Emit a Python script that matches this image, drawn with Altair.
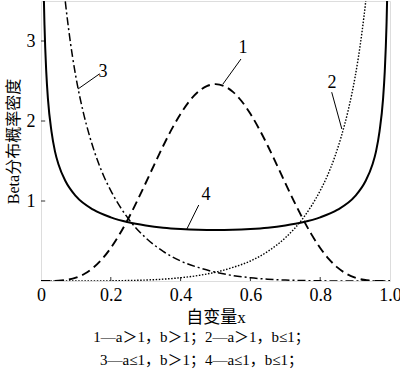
import altair as alt
import pandas as pd

# Curve 1 (a>1, b>1) - dashed
x1 = [0, 0.025, 0.05, 0.075, 0.1, 0.125, 0.15, 0.175, 0.2, 0.225, 0.25, 0.275, 0.3, 0.325,
      0.35, 0.375, 0.4, 0.425, 0.45, 0.475, 0.5, 0.525, 0.55, 0.575, 0.6, 0.625, 0.65, 0.675,
      0.7, 0.725, 0.75, 0.775, 0.8, 0.825, 0.85, 0.875, 0.9, 0.925, 0.95, 0.975, 1.0]
y1 = [0, 0.0002, 0.003, 0.015, 0.041, 0.090, 0.167, 0.274, 0.413, 0.583, 0.779, 0.996, 1.225, 1.459,
      1.688, 1.901, 2.090, 2.247, 2.364, 2.436, 2.461, 2.436, 2.364, 2.247, 2.090, 1.901, 1.688, 1.459,
      1.225, 0.996, 0.779, 0.583, 0.413, 0.274, 0.167, 0.090, 0.041, 0.015, 0.003, 0.0002, 0]

# Curve 3 (a<=1, b>1) - dash-dot
x3 = [0.03, 0.04, 0.05, 0.06, 0.07, 0.08, 0.1, 0.12, 0.14, 0.16, 0.18, 0.2, 0.25, 0.3, 0.35,
      0.4, 0.45, 0.5, 0.55, 0.6, 0.65, 0.7, 0.75, 0.8, 0.85, 0.9, 1.0]
y3 = [6.29, 5.23, 4.48, 3.92, 3.48, 3.12, 2.55, 2.13, 1.80, 1.53, 1.31, 1.13, 0.78, 0.54, 0.37,
      0.25, 0.17, 0.11, 0.068, 0.041, 0.023, 0.012, 0.006, 0.002, 0.001, 0.0001, 0]

# Curve 2 (a>1, b<=1) - dotted
x2 = [0.0, 0.1, 0.15, 0.2, 0.25, 0.3, 0.35, 0.4, 0.45, 0.5, 0.55, 0.6, 0.65, 0.7, 0.75,
      0.8, 0.82, 0.84, 0.86, 0.88, 0.9, 0.92, 0.93, 0.94, 0.95, 0.96, 0.97]
y2 = [0, 0.0001, 0.001, 0.002, 0.006, 0.012, 0.023, 0.041, 0.068, 0.11, 0.17, 0.25, 0.37, 0.54, 0.78,
      1.13, 1.31, 1.53, 1.80, 2.13, 2.55, 3.12, 3.48, 3.92, 4.48, 5.23, 6.29]

# Curve 4 (a<=1, b<=1) - solid
x4 = [0.005, 0.008, 0.01, 0.015, 0.02, 0.03, 0.04, 0.05, 0.07, 0.1, 0.15, 0.2, 0.25, 0.3, 0.35,
      0.4, 0.45, 0.5, 0.55, 0.6, 0.65, 0.7, 0.75, 0.8, 0.85, 0.9, 0.93, 0.95, 0.96, 0.97, 0.98,
      0.985, 0.99, 0.992, 0.995]
y4 = [4.51, 3.57, 3.20, 2.62, 2.27, 1.87, 1.62, 1.46, 1.25, 1.06, 0.891, 0.796, 0.735, 0.695, 0.667,
      0.650, 0.640, 0.637, 0.640, 0.650, 0.667, 0.695, 0.735, 0.796, 0.891, 1.06, 1.25, 1.46, 1.62,
      1.87, 2.27, 2.62, 3.20, 3.57, 4.51]

# Curve number labels and leader lines
lab_text = ["1", "2", "3", "4"]
lab_x = [0.579, 0.834, 0.178, 0.473]
lab_y = [2.91, 2.475, 2.61, 1.08]
lead_x = [0.573, 0.833, 0.168, 0.452]
lead_y = [2.775, 2.36, 2.59, 0.95]
lead_x2 = [0.521, 0.862, 0.106, 0.418]
lead_y2 = [2.46, 1.90, 2.40, 0.65]

x_ticks = [0.2, 0.4, 0.6, 0.8]
y_ticks = [1, 2, 3]
x_tick_labels = [0, 0.2, 0.4, 0.6, 0.8, 1.0]

note_lines = ["1—a＞1，b＞1；2—a＞1，b≤1；", "3—a≤1，b＞1；4—a≤1，b≤1；"]

SERIF = "Liberation Serif, Noto Sans CJK SC"

xs = alt.Scale(domain=[0, 1], nice=False, zero=False)
ys = alt.Scale(domain=[0, 3.5], nice=False, zero=False)
xaxis = alt.Axis(values=x_tick_labels, labelExpr="datum.value == 0 ? '0' : format(datum.value, '.1f')",
                 title="自变量x", ticks=False, domain=False, grid=False, labelPadding=5,
                 labelFlush=False, labelFontSize=18, labelFont=SERIF, labelColor="black",
                 titleFontSize=17, titleFont=SERIF, titleFontWeight="normal", titleColor="black",
                 titlePadding=5)
yaxis = alt.Axis(values=y_ticks, title="Beta分布概率密度", ticks=False, domain=False, grid=False,
                 labelPadding=6, labelFlush=False, labelFontSize=18, labelFont=SERIF, labelColor="black",
                 titleFontSize=16, titleFont=SERIF, titleFontWeight="normal", titleColor="black",
                 titlePadding=5)

X = alt.X("x:Q", scale=xs, axis=xaxis)
Y = alt.Y("y:Q", scale=ys, axis=yaxis)


def curve(xv, yv, dash, width):
    df = pd.DataFrame({"x": xv, "y": yv})
    kw = dict(color="black", strokeWidth=width, clip=True, interpolate="monotone")
    if dash:
        kw["strokeDash"] = dash
    return alt.Chart(df).mark_line(**kw).encode(x=X, y=Y)


c1 = curve(x1, y1, [9, 5], 1.9)
c2 = curve(x2, y2, [1.5, 1.6], 1.4)
c3 = curve(x3, y3, [8, 3, 2, 3], 1.5)
c4 = curve(x4, y4, None, 2.0)

lab_df = pd.DataFrame({"x": lab_x, "y": lab_y, "t": lab_text})
labels = alt.Chart(lab_df).mark_text(font="Liberation Serif", fontSize=18, color="black",
                                     align="center", baseline="middle").encode(x=X, y=Y, text="t:N")

lead_df = pd.DataFrame({"x": lead_x, "y": lead_y, "x2": lead_x2, "y2": lead_y2})
leaders = alt.Chart(lead_df).mark_rule(color="black", strokeWidth=1).encode(
    x=X, y=Y, x2="x2:Q", y2="y2:Q")

xt_df = pd.DataFrame({"x": x_ticks, "y": [0] * len(x_ticks), "y2": [0.05] * len(x_ticks)})
xticks = alt.Chart(xt_df).mark_rule(color="#333", strokeWidth=1).encode(x=X, y=Y, y2="y2:Q")
yt_df = pd.DataFrame({"y": y_ticks, "x": [0] * len(y_ticks), "x2": [0.012] * len(y_ticks)})
yticks = alt.Chart(yt_df).mark_rule(color="#333", strokeWidth=1).encode(x=X, y=Y, x2="x2:Q")

chart = alt.layer(xticks, yticks, c2, c3, c1, c4, leaders, labels).properties(
    width=349, height=280,
    autosize=alt.AutoSizeParams(type="none"),
    padding={"left": 41, "top": 1, "right": 10, "bottom": 97},
    title=alt.TitleParams(text=note_lines, orient="bottom", anchor="middle", fontSize=15,
                          font=SERIF, fontWeight="normal", color="black", lineHeight=23,
                          offset=5, dx=-14),
).configure_view(stroke="#333", strokeWidth=1.3).configure(background="white")

chart.save("out.html", embed_options={"renderer": "svg", "actions": False})
